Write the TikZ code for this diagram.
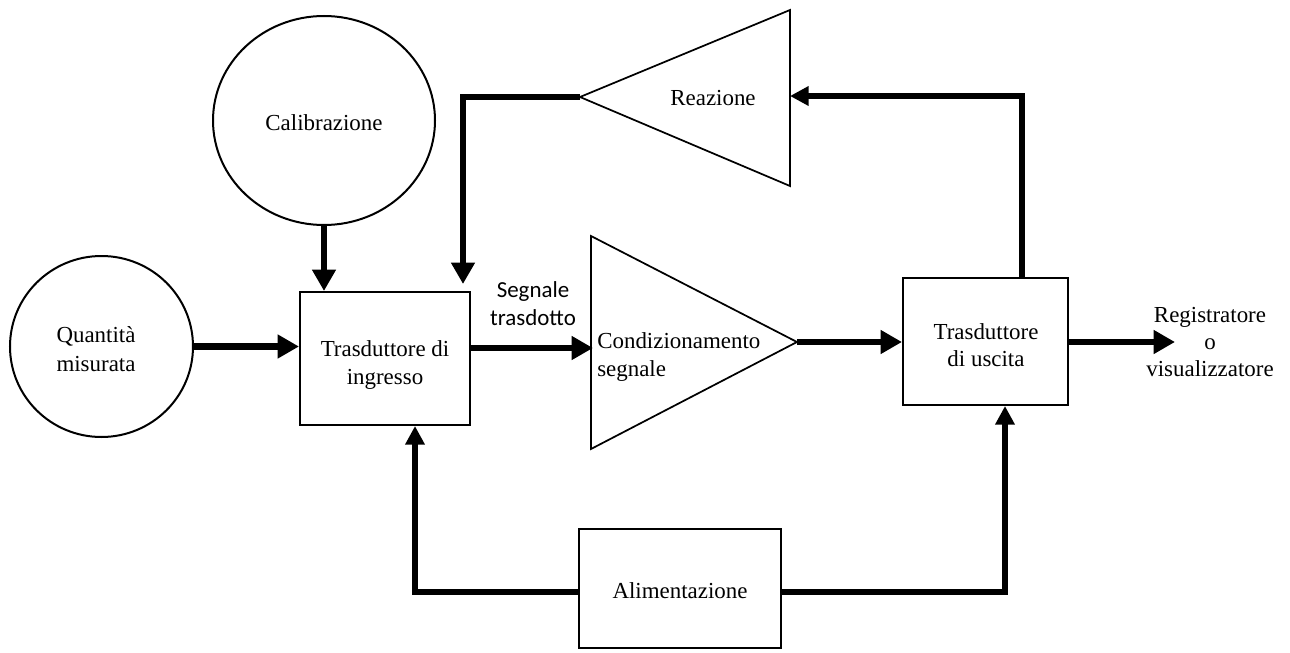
\documentclass[tikz,border=0pt]{standalone}
\usepackage{fontspec}
\setmainfont{Liberation Serif}
\newfontfamily\calfont{Carlito}
\usetikzlibrary{shapes.geometric,arrows.meta}
\begin{document}
\begin{tikzpicture}[x=0.75pt,y=-0.75pt,
  txt/.style={font=\fontsize{17.2pt}{20.5pt}\selectfont, align=center, inner sep=0pt},
  circ/.style={ellipse, draw, line width=1.5pt, inner sep=0pt, txt},
  blk/.style={rectangle, draw, line width=1.5pt, inner sep=0pt, txt},
  tri/.style={draw, line width=1.3pt, line join=miter},
  conn/.style={line width=5pt, line join=miter},
  arr/.style={conn, -{Triangle[length=16pt,width=17pt]}},
  arrs/.style={conn, -{Triangle[length=14pt,width=14pt]}}
]
\useasboundingbox (0,0) rectangle (1290,653);

% shapes
\node[circ, minimum width=166.5pt, minimum height=156.75pt] (cal) at (324,120.5) {};
\node[txt] (cal-t) at (324,123) {Calibrazione};
\node[circ, minimum width=137.25pt, minimum height=135.75pt] (qm) at (101.5,346.5) {};
\node[txt, font=\fontsize{17.2pt}{21.5pt}\selectfont] (qm-t) at (96,349) {Quantità\\misurata};
\node[blk, minimum width=127.5pt, minimum height=99.75pt] (ti) at (385,358.5) {};
\node[txt] (ti-t) at (385,365) {Trasduttore di\\ingresso};
\node[blk, minimum width=123.75pt, minimum height=95.25pt] (tu) at (985.5,341.5) {};
\node[txt] (tu-t) at (986,345) {Trasduttore\\di uscita};
\node[blk, minimum width=151.5pt, minimum height=89.25pt] (al) at (680,588.5) {};
\node[txt] (al-t) at (680,591) {Alimentazione};

% triangles
\coordinate (rapex) at (580,97);
\coordinate (rtop) at (790,10);
\coordinate (rbot) at (790,186);
\draw[tri] (rapex) -- (rtop) -- (rbot) -- cycle;
\node[txt] (reaz) at (713,98) {Reazione};

\coordinate (ctop) at (591,236);
\coordinate (cbot) at (591,449);
\coordinate (capex) at (797,342);
\draw[tri] (ctop) -- (capex) -- (cbot) -- cycle;
\node[txt, anchor=west, align=left] (condt) at (597,357) {Condizionamento\\segnale};

% labels
\node[txt, font=\calfont\fontsize{17.2pt}{21pt}\selectfont] (segn) at (533,304) {Segnale\\trasdotto};
\node[txt] (reg) at (1210,342) {Registratore\\o\\visualizzatore};

% helper coordinates
\coordinate (cin) at (593,348);
\coordinate (rin) at (790,96);
\coordinate (fbx) at (1022,0);
\coordinate (fbend) at (463,284);
\coordinate (xl) at (415,0);
\coordinate (xr) at (1005,0);
\coordinate (alL) at (579,592);
\coordinate (alR) at (781,592);
\coordinate (outend) at (1175,342);

% connectors
\draw[arr] (qm.east) -- (qm.east -| ti.west);
\draw[arr] (cal.south) -- (cal.south |- ti.north);
\draw[arr] (ti.east |- cin) -- (cin);
\draw[arr] (capex) -- (capex -| tu.west);
\draw[arr] (tu.east |- outend) -- (outend);
\draw[arrs] (fbx |- tu.north) |- (rin);
\draw[arr] (rapex) -| (fbend);
\draw[arrs] (alL) -| (xl |- ti.south);
\draw[arrs] (alR) -| (xr |- tu.south);
\end{tikzpicture}
\end{document}
